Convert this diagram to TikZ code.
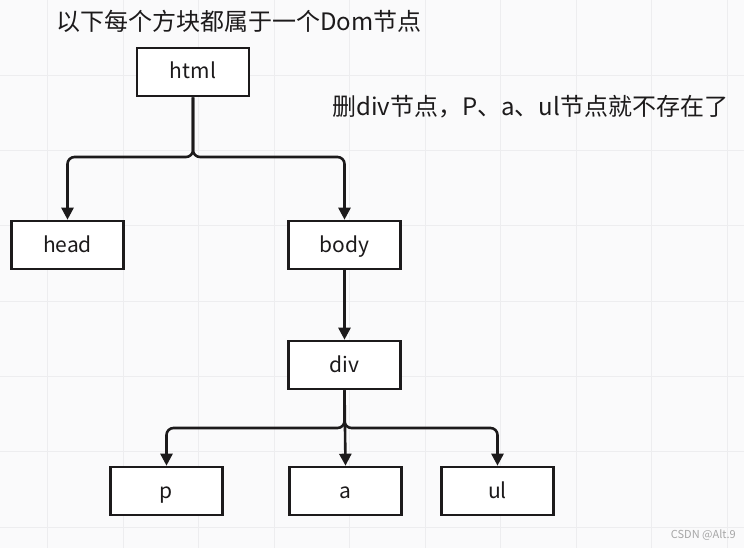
\documentclass[tikz,border=0pt]{standalone}
\usepackage{fontspec}
\newfontfamily\cjk{Noto Sans CJK SC}
\usetikzlibrary{arrows.meta}
\definecolor{ink}{HTML}{1C1A1B}
\definecolor{bgc}{HTML}{FAFAFB}
\definecolor{gridc}{HTML}{EDEDEF}
\tikzset{
  dombox/.style={draw=ink, line width=2.6pt, fill=white, minimum width=112pt, minimum height=48pt, inner sep=0pt, text height=16pt, text depth=2pt, font=\cjk\fontsize{21}{24}\selectfont, text=ink},
  conn/.style={draw=ink, line width=2.6pt, rounded corners=7pt, -{Triangle[width=12pt,length=12pt]}},
  note/.style={anchor=west, inner sep=0pt, font=\cjk\fontsize{24}{28}\selectfont, text=ink},
}
\begin{document}
\begin{tikzpicture}[x=1pt,y=-1pt]
\useasboundingbox (0,0) rectangle (744,548);
\fill[bgc] (0,0) rectangle (744,548);
\foreach \i in {0,...,9} {
  \draw[gridc, line width=1pt] ({47.5+75.5*\i},0) -- ({47.5+75.5*\i},548);
}
\foreach \j in {0,...,7} {
  \draw[gridc, line width=1pt] (0,{75.3*\j}) -- (744,{75.3*\j});
}
\node[note] (t1) at (56,21) {以下每个方块都属于一个Dom节点};
\node[note] (t2) at (332,107) {删div节点，P、a、ul节点就不存在了};

\node[dombox] (html) at (193,72) {html};
\node[dombox] (head) at (67.5,245) {head};
\node[dombox] (body) at (344.5,245) {body};
\node[dombox] (div) at (344.5,365) {div};
\node[dombox] (p) at (166.5,491) {p};
\node[dombox] (a) at (345.5,491) {a};
\node[dombox] (ul) at (497.5,491) {ul};

\coordinate (j1) at (193,157);
\coordinate (j2) at (344.5,428);
\draw[conn] (html.south) -- (j1) -| (head.north);
\draw[conn] (html.south) -- (j1) -| (body.north);
\draw[conn] (body.south) -- (div.north);
\draw[conn] (div.south) -- (j2) -| (p.north);
\draw[conn] (div.south) -- (a.north);
\draw[conn] (div.south) -- (j2) -| (ul.north);

\node[anchor=east, inner sep=0pt, font=\cjk\fontsize{11}{13}\selectfont, text=black!35] (wm) at (736,535) {CSDN @Alt.9};
\end{tikzpicture}
\end{document}
